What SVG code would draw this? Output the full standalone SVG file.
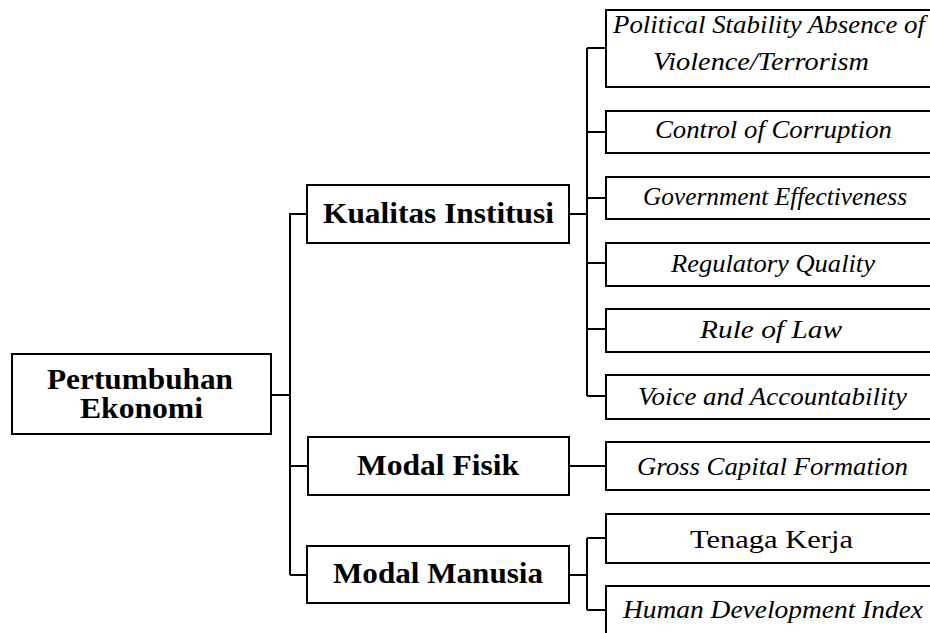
<svg xmlns="http://www.w3.org/2000/svg" width="930" height="633" viewBox="0 0 930 633">
<style>
.box{fill:#fff;stroke:#000;stroke-width:2}
.con{fill:none;stroke:#000;stroke-width:2}
.b{font-weight:bold;font-size:30px;fill:#000;text-anchor:middle}
.i{font-style:italic;font-size:26px;fill:#000;text-anchor:middle}
.r{font-size:26px;fill:#000;text-anchor:middle}
</style>
<rect width="930" height="633" fill="#fff"/>
<g id="connectors">
<path class="con" d="M271,395 H290 M290,213 V575 M290,214 H307 M290,466 H308 M290,575 H307"/>
<path class="con" d="M569,214 H587 M587,48 V396 M587,48 H606 M587,132 H606 M587,198 H606 M587,263 H606 M587,329 H606 M587,396 H606"/>
<path class="con" d="M569,466 H606"/>
<path class="con" d="M569,575 H587 M587,538 V610 M587,538 H606 M587,610 H606"/>
</g>
<g font-family="Liberation Serif, Times New Roman, serif">
<g id="root">
<rect class="box" x="12" y="354" width="259" height="80"/>
<text class="b" x="140" y="389" textLength="186" lengthAdjust="spacingAndGlyphs">Pertumbuhan</text>
<text class="b" x="141.5" y="418" textLength="123" lengthAdjust="spacingAndGlyphs">Ekonomi</text>
</g>
<g id="kualitas">
<rect class="box" x="307" y="185" width="262" height="58"/>
<text class="b" x="438.5" y="223" textLength="231" lengthAdjust="spacingAndGlyphs">Kualitas Institusi</text>
</g>
<g id="fisik">
<rect class="box" x="308" y="437" width="261" height="58"/>
<text class="b" x="438" y="475" textLength="162" lengthAdjust="spacingAndGlyphs">Modal Fisik</text>
</g>
<g id="manusia">
<rect class="box" x="307" y="546" width="262" height="57"/>
<text class="b" x="438" y="583" textLength="210" lengthAdjust="spacingAndGlyphs">Modal Manusia</text>
</g>
<g id="political">
<rect class="box" x="606" y="10" width="334" height="77"/>
<text class="i" x="769" y="33" textLength="312" lengthAdjust="spacingAndGlyphs">Political Stability Absence of</text>
<text class="i" x="761" y="70" textLength="216" lengthAdjust="spacingAndGlyphs">Violence/Terrorism</text>
</g>
<g id="corruption">
<rect class="box" x="606" y="111" width="334" height="42"/>
<text class="i" x="773.5" y="138" textLength="237" lengthAdjust="spacingAndGlyphs">Control of Corruption</text>
</g>
<g id="government">
<rect class="box" x="606" y="177" width="334" height="42"/>
<text class="i" x="775" y="205" textLength="264" lengthAdjust="spacingAndGlyphs">Government Effectiveness</text>
</g>
<g id="regulatory">
<rect class="box" x="606" y="243" width="334" height="43"/>
<text class="i" x="773" y="272" textLength="204" lengthAdjust="spacingAndGlyphs">Regulatory Quality</text>
</g>
<g id="rule">
<rect class="box" x="606" y="309" width="334" height="43"/>
<text class="i" x="771" y="338" textLength="142" lengthAdjust="spacingAndGlyphs">Rule of Law</text>
</g>
<g id="voice">
<rect class="box" x="606" y="375" width="334" height="44"/>
<text class="i" x="772.5" y="405" textLength="269" lengthAdjust="spacingAndGlyphs">Voice and Accountability</text>
</g>
<g id="gross">
<rect class="box" x="606" y="442" width="334" height="48"/>
<text class="i" x="772.5" y="475" textLength="271" lengthAdjust="spacingAndGlyphs">Gross Capital Formation</text>
</g>
<g id="tenaga">
<rect class="box" x="606" y="514" width="334" height="49"/>
<text class="r" x="771.5" y="548" textLength="163" lengthAdjust="spacingAndGlyphs">Tenaga Kerja</text>
</g>
<g id="hdi">
<rect class="box" x="606" y="586" width="334" height="49"/>
<text class="i" x="773" y="618" textLength="300" lengthAdjust="spacingAndGlyphs">Human Development Index</text>
</g>
</g>
</svg>
